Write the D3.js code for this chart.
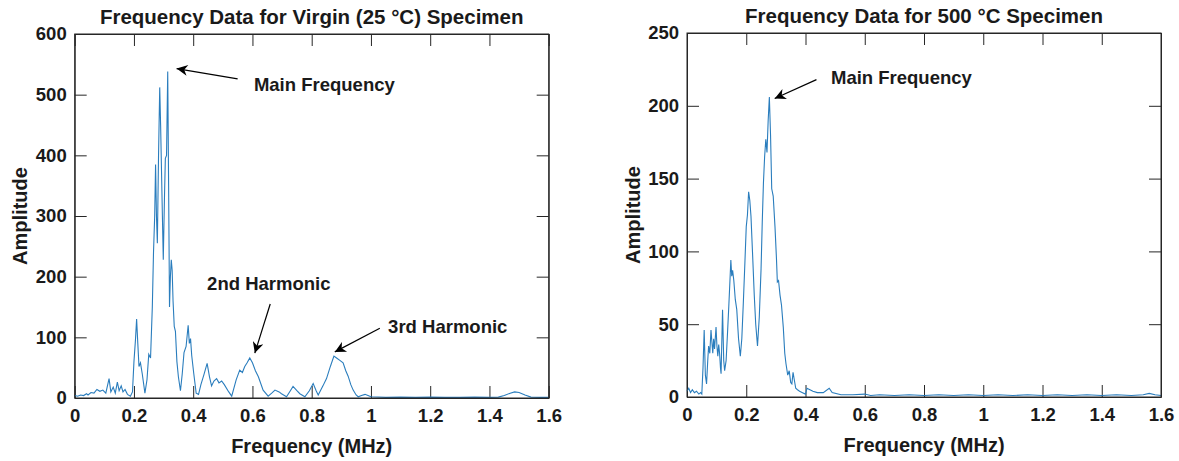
<!DOCTYPE html>
<meta charset="utf-8">
<style>
body { margin: 0; background: #fff; }
svg text { font-family: "Liberation Sans", Arial, sans-serif; font-weight: bold; fill: #1a1a1a; }
.axis path, .axis line { stroke: #262626; }
.axis text { font-size: 18.5px; }
.title { font-size: 20.5px; }
.label { font-size: 20px; }
.note { font-size: 18.5px; }
</style>
<body>
<svg width="1179" height="461" id="vis"></svg>
</body>
<script src="https://cdn.jsdelivr.net/npm/d3@7/dist/d3.min.js"></script>
<script>
// virgin (25 C) specimen spectrum
var virginFreq = [0, 0.01, 0.02, 0.03, 0.04, 0.045, 0.055, 0.065, 0.075, 0.085, 0.095, 0.105, 0.116, 0.122, 0.13, 0.137, 0.144, 0.15, 0.157, 0.163, 0.17, 0.178, 0.188, 0.195,
  0.2, 0.205, 0.209, 0.213, 0.217, 0.222, 0.228, 0.237, 0.244, 0.25, 0.256, 0.262, 0.266, 0.27, 0.273, 0.276, 0.279, 0.283, 0.287, 0.29, 0.293, 0.296, 0.299,
  0.303, 0.306, 0.31, 0.314, 0.317, 0.32, 0.323, 0.326, 0.329, 0.332, 0.336, 0.34, 0.345, 0.35, 0.357, 0.363, 0.369, 0.376, 0.383, 0.387, 0.391, 0.395,
  0.402, 0.41, 0.418, 0.426, 0.436, 0.447, 0.455, 0.462, 0.47, 0.479, 0.487, 0.496, 0.505, 0.52, 0.53, 0.545, 0.557, 0.566, 0.574, 0.582, 0.591, 0.6,
  0.61, 0.62, 0.636, 0.653, 0.665, 0.676, 0.69, 0.698, 0.715, 0.728, 0.737, 0.75, 0.76, 0.777, 0.792, 0.805, 0.815, 0.822, 0.838, 0.85, 0.863, 0.875,
  0.884, 0.895, 0.906, 0.915, 0.923, 0.932, 0.94, 0.95, 0.957, 0.968, 0.98, 0.99, 1.0, 1.05, 1.1, 1.15, 1.2, 1.25, 1.3, 1.35, 1.4, 1.43, 1.45, 1.47,
  1.485, 1.5, 1.52, 1.54, 1.57, 1.6];
var virginAmp = [4, 3, 5, 4, 7, 5, 9, 8, 14, 11, 13, 8, 32, 10, 18, 8, 26, 12, 20, 10, 14, 6, 3, 10,
  60, 95, 130, 90, 52, 58, 40, 8, 30, 72, 66, 150, 240, 300, 385, 300, 255, 400, 512, 450, 375, 300, 228,
  330, 395, 400, 538, 350, 150, 200, 228, 210, 160, 118, 110, 60, 35, 12, 40, 75, 85, 120, 90, 98, 70,
  40, 8, 6, 22, 38, 57, 35, 20, 28, 32, 25, 28, 22, 10, 3, 30, 46, 42, 52, 58, 66, 58,
  45, 35, 13, 3, 8, 13, 10, 7, 2, 12, 19, 12, 7, 2, 12, 24, 12, 5, 20, 32, 52, 69,
  66, 62, 58, 45, 36, 22, 13, 5, 2, 4, 6, 4, 2, 1, 1.5, 1, 1.5, 1, 1, 1.5, 1, 1.5, 4, 8,
  10, 9, 5, 1.5, 1, 1];

// 500 C specimen spectrum
var heatedFreq = [0, 0.006, 0.012, 0.018, 0.025, 0.032, 0.04, 0.046, 0.05, 0.054, 0.058, 0.062, 0.066, 0.07, 0.073, 0.077, 0.081, 0.084, 0.087, 0.09,
  0.093, 0.098, 0.101, 0.104, 0.107, 0.11, 0.113, 0.115, 0.12, 0.124, 0.127, 0.132, 0.137, 0.141, 0.145, 0.148, 0.151, 0.154, 0.158, 0.163, 0.168,
  0.174, 0.18, 0.185, 0.19, 0.195, 0.2, 0.204, 0.208, 0.212, 0.216, 0.221, 0.227, 0.232, 0.238, 0.244, 0.25, 0.254, 0.258, 0.262, 0.266, 0.27, 0.274,
  0.278, 0.282, 0.286, 0.291, 0.297, 0.302, 0.305, 0.309, 0.314, 0.319, 0.325, 0.33, 0.334, 0.34, 0.345, 0.35, 0.354, 0.358, 0.362, 0.367, 0.373,
  0.38, 0.39, 0.4, 0.405, 0.415, 0.425, 0.44, 0.46, 0.48, 0.49, 0.52, 0.56, 0.6, 0.62, 0.65, 0.7, 0.75, 0.8, 0.85, 0.9, 0.95, 1.0, 1.05, 1.1, 1.15,
  1.2, 1.25, 1.3, 1.35, 1.4, 1.45, 1.5, 1.54, 1.56, 1.58, 1.6];
var heatedAmp = [4, 6, 3, 5, 3, 4, 2, 3, 2, 20, 46, 15, 9, 25, 35, 30, 46, 38, 30, 40,
  33, 48, 35, 28, 36, 30, 20, 16, 60, 25, 18, 25, 45, 62, 80, 94, 83, 87, 80, 67, 60,
  40, 28, 40, 64, 90, 117, 125, 141, 135, 124, 100, 70, 50, 35, 55, 88, 120, 147, 165, 177, 168, 190,
  206, 180, 143, 138, 117, 95, 79, 80, 70, 63, 48, 30, 23, 15, 18, 10, 9, 17, 12, 6, 5,
  4, 3, 2, 6, 5, 4, 3, 3, 6, 3, 1.5, 1.5, 2, 1, 1.5, 1, 1.5, 1, 1.5, 1, 1.5, 1, 1.5, 1, 1.5,
  1, 1.5, 1, 1.5, 1, 1.5, 1, 1.5, 2.5, 1.5, 1];

var xTicks = [0, 0.2, 0.4, 0.6, 0.8, 1, 1.2, 1.4, 1.6];
var virginTicks = [0, 100, 200, 300, 400, 500, 600];
var heatedTicks = [0, 50, 100, 150, 200, 250];

var svg = d3.select("svg");

svg.append("defs").append("marker")
    .attr("id", "head")
    .attr("viewBox", "0 0 10 10")
    .attr("refX", 10).attr("refY", 5)
    .attr("markerWidth", 14).attr("markerHeight", 11)
    .attr("markerUnits", "userSpaceOnUse")
    .attr("orient", "auto")
  .append("path")
    .attr("d", "M0,0 L10,5 L0,10 L3,5 Z")
    .attr("fill", "#000");

function panel(opt) {
  var w = 474, h = 364, tk = 12;
  var g = svg.append("g").attr("transform", "translate(" + opt.left + "," + opt.top + ")");
  var x = d3.scaleLinear().domain([0, 1.6]).range([0, w]);
  var y = d3.scaleLinear().domain(opt.yDomain).range([h, 0]);

  g.append("g").attr("class", "axis")
      .attr("transform", "translate(0," + h + ")")
      .call(d3.axisBottom(x).tickValues(xTicks).tickFormat(d3.format("~g")).tickSizeInner(-tk).tickSizeOuter(0).tickPadding(11));
  g.append("g").attr("class", "axis")
      .call(d3.axisTop(x).tickValues(xTicks).tickFormat("").tickSizeInner(-tk).tickSizeOuter(0));
  g.append("g").attr("class", "axis")
      .call(d3.axisLeft(y).tickValues(opt.yTicks).tickSizeInner(-tk).tickSizeOuter(0).tickPadding(8));
  g.append("g").attr("class", "axis")
      .attr("transform", "translate(" + w + ",0)")
      .call(d3.axisRight(y).tickValues(opt.yTicks).tickFormat("").tickSizeInner(-tk).tickSizeOuter(0));
  g.selectAll(".axis text").attr("fill", "#1a1a1a");

  g.append("path")
      .datum(d3.zip(opt.freq, opt.amp))
      .attr("fill", "none")
      .attr("stroke", "#2a7dbd")
      .attr("stroke-width", 1.1)
      .attr("d", d3.line().x(function(d) { return x(d[0]); }).y(function(d) { return y(d[1]); }));

  g.append("rect").attr("width", w).attr("height", h)
      .attr("fill", "none").attr("stroke", "#262626").attr("stroke-width", 1);

  g.append("text").attr("class", "title")
      .attr("x", w / 2).attr("y", -10).attr("text-anchor", "middle")
      .text(opt.title);
  g.append("text").attr("class", "label")
      .attr("x", w / 2).attr("y", h + 55).attr("text-anchor", "middle")
      .text("Frequency (MHz)");
  g.append("text").attr("class", "label")
      .attr("transform", "translate(" + opt.yLabelX + "," + (h / 2) + ") rotate(-90)")
      .attr("text-anchor", "middle")
      .text("Amplitude");

  // annotations: text position and arrow from tail to tip, in data units
  opt.notes.forEach(function(n) {
    g.append("text").attr("class", "note")
        .attr("x", x(n.tx)).attr("y", y(n.ty))
        .text(n.text);
    g.append("line")
        .attr("x1", x(n.from[0])).attr("y1", y(n.from[1]))
        .attr("x2", x(n.to[0])).attr("y2", y(n.to[1]))
        .attr("stroke", "#000").attr("stroke-width", 1.2)
        .attr("marker-end", "url(#head)");
  });
}

panel({
  left: 74.7, top: 34,
  yDomain: [0, 600], yTicks: virginTicks,
  freq: virginFreq, amp: virginAmp,
  title: "Frequency Data for Virgin (25 \u00b0C) Specimen",
  yLabelX: -48,
  notes: [
    {text: "Main Frequency", tx: 0.605, ty: 506, from: [0.55, 526], to: [0.344, 543]},
    {text: "2nd Harmonic", tx: 0.447, ty: 178, from: [0.66, 155], to: [0.608, 74]},
    {text: "3rd Harmonic", tx: 1.058, ty: 107, from: [1.03, 115], to: [0.878, 76]}
  ]
});

panel({
  left: 687, top: 33,
  yDomain: [0, 250], yTicks: heatedTicks,
  freq: heatedFreq, amp: heatedAmp,
  title: "Frequency Data for 500 \u00b0C Specimen",
  yLabelX: -47,
  notes: [
    {text: "Main Frequency", tx: 0.486, ty: 215, from: [0.437, 218], to: [0.296, 205]}
  ]
});
</script>
